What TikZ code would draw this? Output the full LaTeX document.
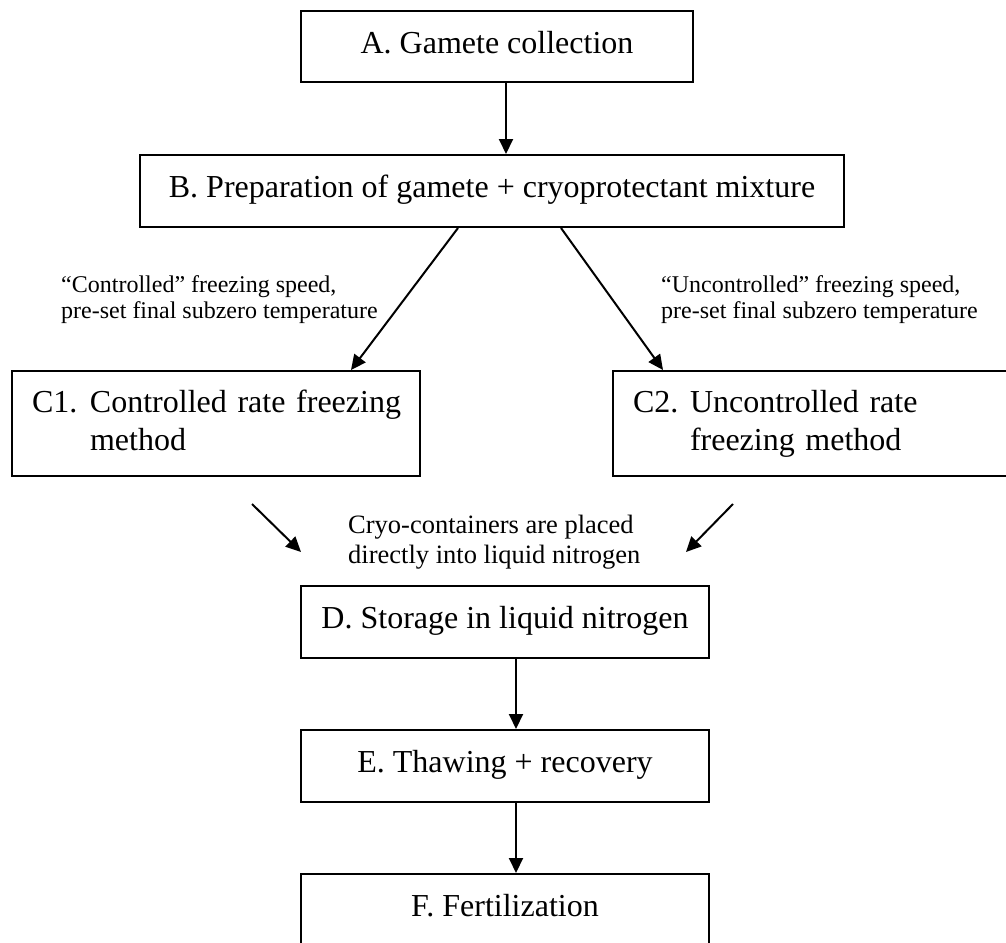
\documentclass[tikz,border=0pt]{standalone}
\usepackage{fontspec}
\setmainfont{Liberation Serif}
\usetikzlibrary{arrows.meta}
\tikzset{
  box/.style={draw, line width=2pt, rectangle, inner sep=0pt, font=\fontsize{32}{38}\selectfont},
  onebox/.style={box, align=center, text height=23pt, text depth=10pt},
  twobox/.style={box, align=left, inner xsep=20pt, minimum height=105pt},
  arr/.style={line width=2pt, -{Triangle[length=15pt,width=14pt]}},
  sidelabel/.style={anchor=west, inner sep=0pt, align=left, font=\fontsize{24}{26}\selectfont},
  midlabel/.style={anchor=west, inner sep=0pt, align=left, font=\fontsize{26.5}{30}\selectfont}
}
\begin{document}
\begin{tikzpicture}[x=1pt,y=-1pt]
\path[use as bounding box] (0,0) rectangle (1006,942);
\clip (0,0) rectangle (1006,942);
% boxes
\node[onebox, minimum width=392pt, minimum height=71pt] (A) at (497,46.5) {A. Gamete collection};
\node[onebox, minimum width=704pt, minimum height=72pt] (B) at (492,191) {B. Preparation of gamete + cryoprotectant mixture};
\node[twobox, text width=368pt] (C1) at (216,423.5) {\mbox{\makebox[58pt][l]{C1.}Controlled rate freezing}\\\mbox{\hspace*{58pt}method\vphantom{g}}};
\node[twobox, text width=447pt] (C2) at (856.5,423.5) {\mbox{\makebox[57pt][l]{C2.}Uncontrolled rate}\\\mbox{\hspace*{57pt}freezing method}};
\node[onebox, minimum width=408pt, minimum height=72pt] (D) at (505,622) {D. Storage in liquid nitrogen};
\node[onebox, minimum width=408pt, minimum height=72pt] (E) at (505,766) {E. Thawing + recovery};
\node[onebox, minimum width=408pt, minimum height=72pt] (F) at (505,910) {F. Fertilization};
% labels
\node[sidelabel] (L1) at (61,300) {“Controlled” freezing speed,\\pre-set final subzero temperature};
\node[sidelabel] (L2) at (661,300) {“Uncontrolled” freezing speed,\\pre-set final subzero temperature};
\node[midlabel] (L3) at (348,542) {Cryo-containers are placed\\directly into liquid nitrogen};
% connector x-positions
\coordinate (xab) at (506,0);
\coordinate (xbl) at (458,0);
\coordinate (xc1) at (351,0);
\coordinate (xbr) at (561,0);
\coordinate (xc2) at (663,0);
\coordinate (xde) at (516,0);
\coordinate (fl1) at (252,504);
\coordinate (fl2) at (301,552);
\coordinate (fr1) at (733,504);
\coordinate (fr2) at (686,552);
% connectors
\draw[arr] (A.south -| xab) -- (B.north -| xab);
\draw[arr] (B.south -| xbl) -- (C1.north -| xc1);
\draw[arr] (B.south -| xbr) -- (C2.north -| xc2);
\draw[arr] (fl1) -- (fl2);
\draw[arr] (fr1) -- (fr2);
\draw[arr] (D.south -| xde) -- (E.north -| xde);
\draw[arr] (E.south -| xde) -- (F.north -| xde);
\end{tikzpicture}
\end{document}
